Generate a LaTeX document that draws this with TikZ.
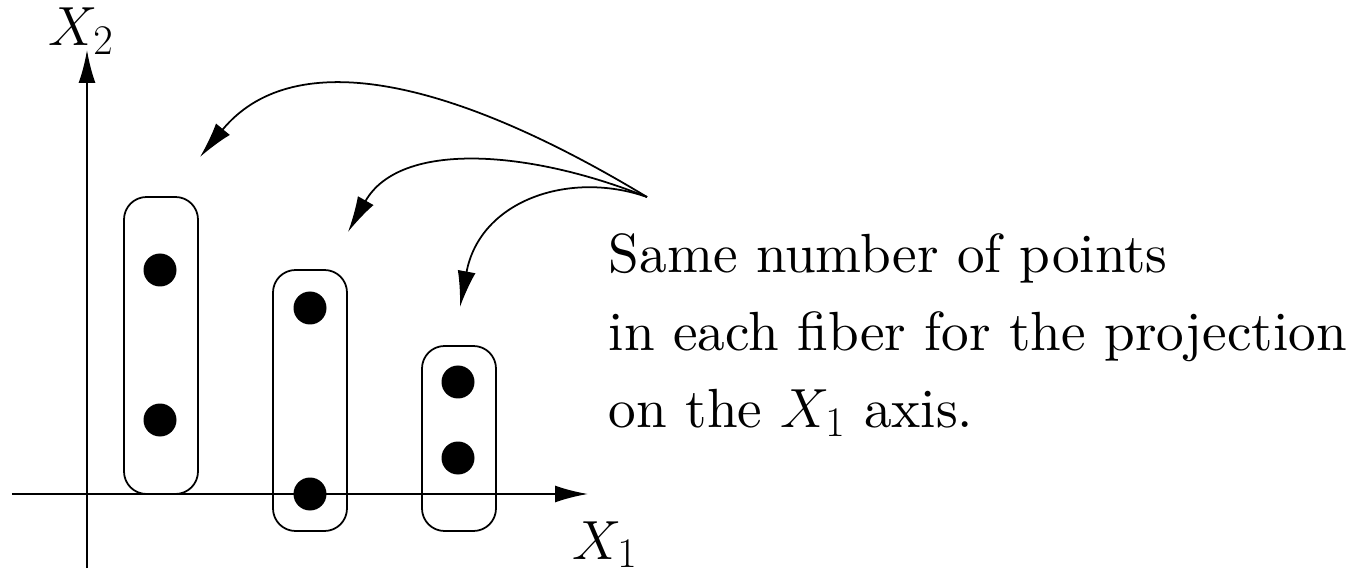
\RequirePackage{fix-cm}
\documentclass[tikz,border=0pt]{standalone}
\usepackage{fontspec}
\setmainfont{lmroman10-regular.otf}[ItalicFont=lmroman10-italic.otf,
  BoldFont=lmroman10-bold.otf]
\DeclareMathSizes{31.4}{31.4}{24}{18}
\usetikzlibrary{positioning, arrows.meta}
\tikzset{
  fiber/.style={draw, rounded corners=4.5mm, line width=1pt,
                minimum width=1.48cm, inner sep=0pt},
  pt/.style={circle, fill=black, minimum size=6.6mm, inner sep=0pt},
  lbl/.style={font=\fontsize{31.4}{44}\selectfont, inner sep=0pt}
}
\begin{document}
\begin{tikzpicture}[>={Latex[length=6.6mm, width=3.4mm]}, line width=1.1pt]
  \useasboundingbox (-1.74,-1.66) rectangle (25.32,9.88);
  % axes
  \coordinate (o1) at (-1.5,0);
  \coordinate (e1) at (10.02,0);
  \coordinate (o2) at (0,-1.48);
  \coordinate (e2) at (0,8.88);
  \draw[->] (o1) -- (e1);
  \draw[->] (o2) -- (e2);
  \node[lbl, anchor=base] (x1) at (10.36,-1.3) {$X_1$};
  \node[lbl, anchor=base] (x2) at (-0.12,8.96) {$X_2$};
  % fibers
  \node[fiber, minimum height=5.94cm] (f1) at (1.48,2.97) {};
  \node[fiber, minimum height=5.22cm] (f2) at (4.46,1.87) {};
  \node[fiber, minimum height=3.70cm] (f3) at (7.44,1.11) {};
  \node[pt] (p11) at (1.46,4.48) {};
  \node[pt] (p12) at (1.46,1.48) {};
  \node[pt] (p21) at (4.46,3.72) {};
  \node[pt] (p22) at (4.46,0) {};
  \node[pt] (p31) at (7.42,2.24) {};
  \node[pt] (p32) at (7.42,0.72) {};
  % comment text
  \node[lbl, anchor=base west] (t1) at (10.42,4.42) {Same number of points};
  \node[lbl, anchor=base west] (t2) at (10.42,2.86) {in each fiber for the projection};
  \node[lbl, anchor=base west] (t3) at (10.42,1.32) {on the $X_1$ axis.};
  % arrows to the fibers
  \coordinate (src) at (11.2,5.94);
  \coordinate (a1) at (2.26,6.74);
  \coordinate (a2) at (5.22,5.24);
  \coordinate (a3) at (7.46,3.74);
  \begin{scope}[line width=1pt, >={Latex[length=7.2mm, width=3.6mm]}]
    \draw[->] (src) .. controls (7.06,8.44) and (4.06,8.92) .. (a1);
    \draw[->] (src) .. controls (8.86,6.88) and (6.26,7.08) .. (a2);
    \draw[->] (src) .. controls (9.66,6.48) and (7.86,5.88) .. (a3);
  \end{scope}
\end{tikzpicture}
\end{document}
